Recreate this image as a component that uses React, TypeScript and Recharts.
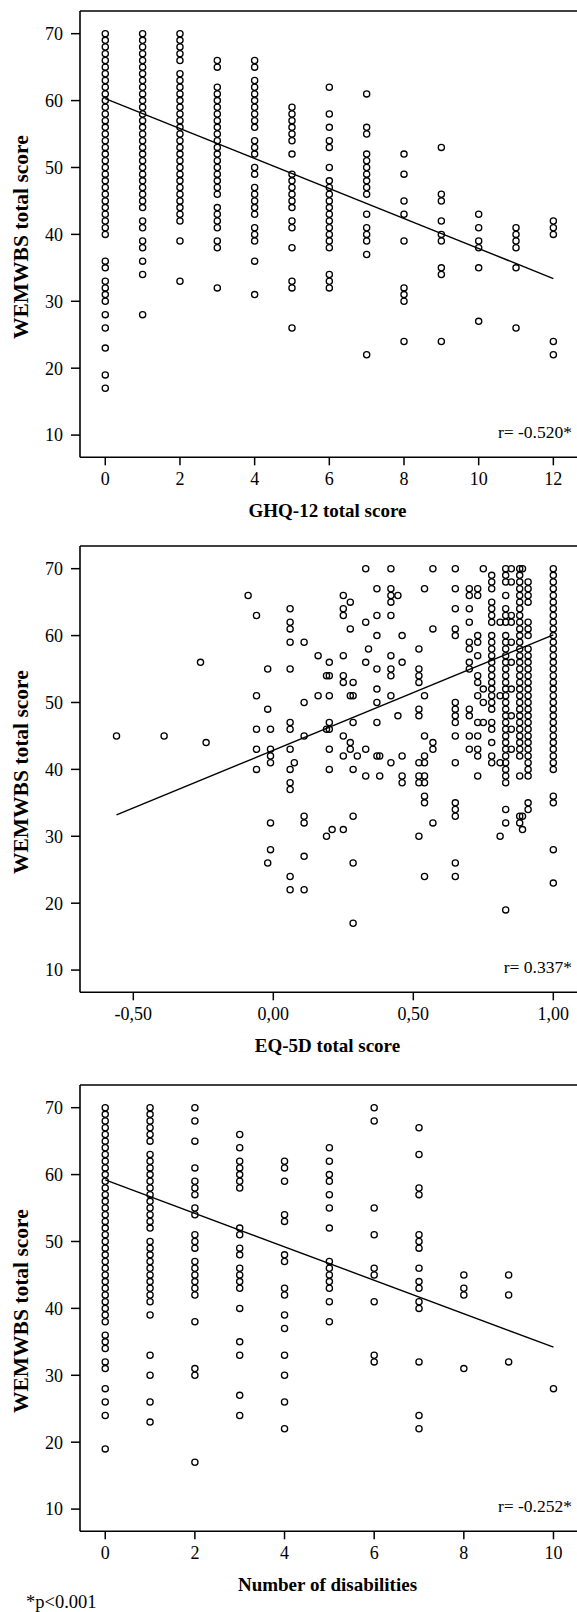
import { ScatterChart, Scatter, XAxis, YAxis, ReferenceLine } from 'recharts'

// shared y axis (WEMWBS)
const wemwbsTicks = [10, 20, 30, 40, 50, 60, 70]
const Y_DOMAIN: [number, number] = [6.68, 73.39]

// panel 1: GHQ-12
const ghqScores = [0, 1, 2, 3, 4, 5, 6, 7, 8, 9, 10, 11, 12]
const ghqWemwbs = [
    [70, 69, 68, 67, 66, 65, 64, 63, 62, 61, 60, 59, 58, 57, 56, 55, 54, 53, 52, 51, 50, 49, 48, 47, 46, 45, 44, 43, 42, 41, 40, 36, 35, 33, 32, 31, 30, 28, 26, 23, 19, 17],
    [70, 69, 68, 67, 66, 65, 64, 63, 62, 61, 60, 59, 58, 57, 56, 55, 54, 53, 52, 51, 50, 49, 48, 47, 46, 45, 44, 42, 41, 39, 38, 36, 34, 28],
    [70, 69, 68, 67, 66, 64, 63, 62, 61, 60, 59, 58, 57, 56, 55, 54, 53, 52, 51, 50, 49, 48, 47, 46, 45, 44, 43, 42, 39, 33],
    [66, 65, 62, 61, 60, 59, 58, 57, 56, 55, 54, 53, 52, 51, 50, 49, 48, 47, 46, 44, 43, 42, 41, 39, 38, 32],
    [66, 65, 63, 62, 61, 60, 59, 58, 57, 56, 54, 53, 52, 50, 49, 47, 46, 45, 44, 43, 41, 40, 39, 36, 31],
    [59, 58, 57, 56, 55, 54, 52, 49, 48, 47, 46, 45, 44, 42, 41, 38, 33, 32, 26],
    [62, 58, 56, 54, 53, 50, 48, 47, 46, 45, 44, 43, 42, 41, 40, 39, 38, 34, 33, 32],
    [61, 56, 55, 52, 51, 50, 49, 48, 47, 46, 43, 41, 40, 39, 37, 22],
    [52, 49, 45, 43, 39, 32, 31, 30, 24],
    [53, 46, 45, 42, 40, 39, 35, 34, 24],
    [43, 41, 39, 38, 35, 27],
    [41, 40, 39, 38, 35, 26],
    [42, 41, 40, 24, 22],
]
const ghqTicks = [0, 2, 4, 6, 8, 10, 12]
const ghqFit = [{ x: 0, y: 60.3 }, { x: 12, y: 33.4 }]

// panel 2: EQ-5D
const eqScores = [-0.56, -0.39, -0.26, -0.24, -0.09, -0.06, -0.02, -0.01, 0.06, 0.075, 0.11, 0.16, 0.19, 0.2, 0.21, 0.25, 0.275, 0.285, 0.3, 0.33, 0.34, 0.37, 0.38, 0.42, 0.445, 0.46, 0.52, 0.54, 0.57, 0.65, 0.7, 0.73, 0.75, 0.78, 0.81, 0.83, 0.85, 0.88, 0.89, 0.91, 1.0]
const eqWemwbs = [
    [45],
    [45],
    [56],
    [44],
    [66],
    [63, 51, 46, 43, 40],
    [55, 49, 26],
    [46, 43, 42, 41, 32, 28],
    [64, 62, 61, 59, 55, 47, 46, 43, 40, 38, 37, 24, 22],
    [41],
    [59, 50, 45, 33, 32, 27, 22],
    [57, 51],
    [54, 46, 30],
    [56, 54, 51, 47, 46, 43, 40],
    [31],
    [66, 64, 63, 57, 54, 53, 45, 42, 31],
    [65, 61, 51, 44, 43],
    [53, 51, 47, 40, 33, 26, 17],
    [42],
    [70, 62, 56, 43, 39],
    [58],
    [67, 63, 60, 55, 52, 50, 47, 42],
    [42, 39],
    [70, 67, 66, 65, 63, 57, 55, 54, 51, 41],
    [66, 48],
    [60, 56, 42, 39, 38],
    [58, 55, 54, 53, 49, 48, 41, 39, 38, 30],
    [67, 51, 45, 42, 41, 39, 38, 36, 35, 24],
    [70, 61, 44, 43, 32],
    [70, 67, 64, 61, 60, 50, 49, 48, 47, 45, 41, 35, 34, 33, 26, 24],
    [67, 66, 64, 62, 59, 58, 56, 55, 49, 48, 45, 43],
    [67, 66, 60, 59, 57, 54, 53, 51, 47, 45, 43, 42, 39],
    [70, 52, 50, 47],
    [69, 68, 67, 65, 64, 63, 62, 60, 59, 58, 57, 56, 55, 54, 53, 52, 51, 50, 49, 47, 46, 44, 42, 41],
    [62, 51, 41, 30],
    [70, 69, 68, 66, 64, 63, 62, 60, 59, 58, 57, 56, 55, 54, 53, 52, 51, 50, 49, 48, 47, 46, 45, 44, 43, 42, 41, 40, 39, 38, 34, 32, 19],
    [70, 68, 63, 62, 59, 56, 52, 48, 46, 43],
    [70, 69, 68, 67, 66, 65, 64, 63, 62, 61, 60, 59, 58, 57, 56, 55, 54, 53, 52, 51, 50, 49, 48, 47, 46, 45, 44, 43, 42, 39, 33, 32],
    [70, 33, 31],
    [68, 67, 66, 65, 62, 61, 60, 58, 57, 56, 55, 54, 53, 52, 51, 50, 49, 48, 47, 46, 45, 44, 43, 42, 41, 40, 39, 35, 34],
    [70, 69, 68, 67, 66, 65, 64, 63, 62, 61, 60, 59, 58, 57, 56, 55, 54, 53, 52, 51, 50, 49, 48, 47, 46, 45, 44, 43, 42, 41, 40, 36, 35, 28, 23],
]
const eqTicks = [-0.5, 0, 0.5, 1]
const eqFit = [{ x: -0.56, y: 33.2 }, { x: 1.0, y: 60.1 }]

// panel 3: number of disabilities
const disabilityCounts = [0, 1, 2, 3, 4, 5, 6, 7, 8, 9, 10]
const disabilityWemwbs = [
    [70, 69, 68, 67, 66, 65, 64, 63, 62, 61, 60, 59, 58, 57, 56, 55, 54, 53, 52, 51, 50, 49, 48, 47, 46, 45, 44, 43, 42, 41, 40, 39, 38, 36, 35, 34, 32, 31, 28, 26, 24, 19],
    [70, 69, 68, 67, 66, 65, 63, 62, 61, 60, 59, 58, 57, 56, 55, 54, 53, 52, 50, 49, 48, 47, 46, 45, 44, 43, 42, 41, 39, 33, 30, 26, 23],
    [70, 68, 65, 61, 59, 58, 57, 55, 54, 51, 50, 49, 47, 46, 45, 44, 43, 42, 38, 31, 30, 17],
    [66, 64, 62, 61, 60, 59, 58, 52, 51, 49, 48, 46, 45, 44, 43, 40, 35, 33, 27, 24],
    [62, 61, 59, 54, 53, 48, 47, 43, 42, 39, 37, 33, 30, 26, 22],
    [64, 62, 60, 59, 57, 55, 52, 47, 46, 45, 44, 43, 41, 38],
    [70, 68, 55, 51, 46, 45, 41, 33, 32],
    [67, 63, 58, 57, 51, 50, 49, 46, 44, 43, 41, 40, 32, 24, 22],
    [45, 43, 42, 31],
    [45, 42, 32],
    [28],
]
const disabilityTicks = [0, 2, 4, 6, 8, 10]
const disabilityFit = [{ x: 0, y: 59.2 }, { x: 10, y: 34.2 }]

const toPoints = (xs: number[], ys: number[][]) =>
    xs.flatMap((x, i) => ys[i].map((y) => ({ x, y })))

const FONT = '"Liberation Serif", "Times New Roman", serif'
const FRAME_TOP = 11
const PLOT_H = 446.3

const OpenCircle = (p: any) => (
    <circle cx={p.cx} cy={p.cy} r={3.1} fill="none" stroke="#000" strokeWidth={1.3} />
)

interface PanelProps {
    top: number
    points: { x: number; y: number }[]
    xDomain: [number, number]
    xTicks: number[]
    fit: { x: number; y: number }[]
    fmt?: (v: number) => string
}

function Panel({ top, points, xDomain, xTicks, fit, fmt }: PanelProps) {
    const tick = { fill: '#000', fontSize: 18, fontFamily: FONT }
    return (
        <div style={{ position: 'absolute', left: 0, top }}>
            <ScatterChart width={600} height={500} margin={{ top: FRAME_TOP, right: 22, bottom: 0, left: 0 }}>
                <XAxis
                    type="number"
                    dataKey="x"
                    domain={xDomain}
                    ticks={xTicks}
                    interval={0}
                    allowDataOverflow
                    tickFormatter={fmt}
                    height={500 - FRAME_TOP - PLOT_H}
                    stroke="#000"
                    axisLine={{ stroke: '#000', strokeWidth: 1.6 }}
                    tickLine={{ stroke: '#000', strokeWidth: 1.5 }}
                    tickSize={8}
                    tickMargin={7}
                    tick={tick}
                />
                <YAxis
                    type="number"
                    dataKey="y"
                    domain={Y_DOMAIN}
                    ticks={wemwbsTicks}
                    interval={0}
                    allowDataOverflow
                    width={80}
                    stroke="#000"
                    axisLine={{ stroke: '#000', strokeWidth: 1.6 }}
                    tickLine={{ stroke: '#000', strokeWidth: 1.5 }}
                    tickSize={9}
                    tickMargin={8}
                    tick={tick}
                />
                <ReferenceLine y={Y_DOMAIN[1]} stroke="#000" strokeWidth={1.6} />
                <Scatter data={points} shape={OpenCircle} isAnimationActive={false} />
                <ReferenceLine segment={fit} stroke="#000" strokeWidth={1.4} />
            </ScatterChart>
        </div>
    )
}

const panelTops = [0, 535, 1074]
const xTitles = ['GHQ-12 total score', 'EQ-5D total score', 'Number of disabilities']
const rLabels = ['r= -0.520*', 'r= 0.337*', 'r= -0.252*']

export default function App() {
    return (
        <div
            style={{
                position: 'absolute',
                left: 0,
                top: 0,
                width: 577,
                height: 1612,
                overflow: 'hidden',
                background: '#fff',
            }}
        >
            <Panel top={panelTops[0]} points={toPoints(ghqScores, ghqWemwbs)} xDomain={[-0.677, 12.66]} xTicks={ghqTicks} fit={ghqFit} />
            <Panel
                top={panelTops[1]}
                points={toPoints(eqScores, eqWemwbs)}
                xDomain={[-0.6904, 1.0882]}
                xTicks={eqTicks}
                fit={eqFit}
                fmt={(v) => v.toFixed(2).replace('.', ',')}
            />
            <Panel top={panelTops[2]} points={toPoints(disabilityCounts, disabilityWemwbs)} xDomain={[-0.563, 10.547]} xTicks={disabilityTicks} fit={disabilityFit} />

            <svg width={577} height={1612} style={{ position: 'absolute', left: 0, top: 0, pointerEvents: 'none' }} fontFamily={FONT}>
                {panelTops.map((t, i) => {
                    const frameTop = t + FRAME_TOP
                    const frameBottom = frameTop + PLOT_H
                    return (
                        <g key={i}>
                            <text
                                transform={`translate(27.5, ${frameTop + PLOT_H / 2 + 3}) rotate(-90)`}
                                textAnchor="middle"
                                fontSize={21.5}
                                fontWeight="bold"
                                fill="#000"
                            >
                                WEMWBS total score
                            </text>
                            <text x={327.5} y={frameBottom + 59.8} textAnchor="middle" fontSize={19} fontWeight="bold" fill="#000">
                                {xTitles[i]}
                            </text>
                            <text x={572} y={frameBottom - 19.8} textAnchor="end" fontSize={17.5} fill="#000">
                                {rLabels[i]}
                            </text>
                        </g>
                    )
                })}
                <text x={26} y={1608} fontSize={18.5} fill="#000">
                    *p&lt;0.001
                </text>
            </svg>
        </div>
    )
}
